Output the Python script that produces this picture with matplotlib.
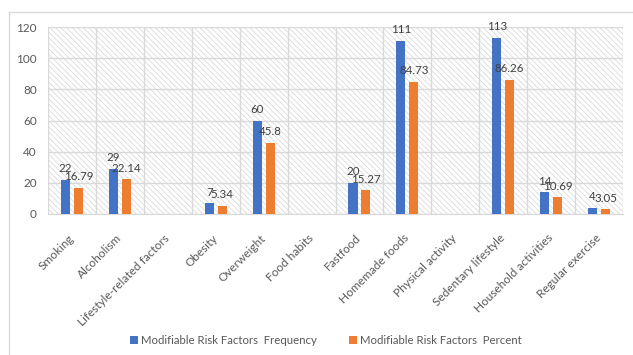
import matplotlib.pyplot as plt
import numpy as np
from matplotlib.patches import Rectangle
from matplotlib.lines import Line2D

categories = ['Smoking', 'Alcoholism', 'Lifestyle-related factors', 'Obesity',
              'Overweight', 'Food habits', 'Fastfood', 'Homemade foods',
              'Physical activity', 'Sedentary lifestyle', 'Household activities',
              'Regular exercise']
frequency = [22, 29, None, 7, 60, None, 20, 111, None, 113, 14, 4]
percent = [16.79, 22.14, None, 5.34, 45.8, None, 15.27, 84.73, None, 86.26, 10.69, 3.05]
yticks = [0, 20, 40, 60, 80, 100, 120]

series_names = ['Modifiable Risk Factors  Frequency', 'Modifiable Risk Factors  Percent']
colors = ['#4472C4', '#ED7D31']

plt.rcParams['font.family'] = ['Lato', 'DejaVu Sans']
plt.rcParams['hatch.linewidth'] = 0.5

fig = plt.figure(figsize=(6.33, 3.55), dpi=100)
ax = fig.add_axes([48 / 633, 1 - 214 / 355, 575 / 633, 187 / 355])

# chart frame (light grey, like the Excel chart area border)
fig.add_artist(Line2D([9 / 633, 9 / 633], [0, 1 - 12 / 355], color='#D9D9D9', lw=1))
fig.add_artist(Line2D([9 / 633, 1], [1 - 12 / 355, 1 - 12 / 355], color='#D9D9D9', lw=1))

# hatched plot area
ax.add_patch(Rectangle((0, 0), 1, 1, transform=ax.transAxes, facecolor='white',
                       edgecolor='#D4D4D4', hatch='\\' * 6, lw=0, zorder=0))

x = np.arange(len(categories))
w = 0.19
off = 0.135
for vals, sign, c, name in [(frequency, -1, colors[0], series_names[0]),
                            (percent, 1, colors[1], series_names[1])]:
    xs = [xi + sign * off for xi, v in zip(x, vals) if v is not None]
    vs = [v for v in vals if v is not None]
    ax.bar(xs, vs, width=w, color=c, label=name, zorder=3)
    for xi, v in zip(xs, vs):
        ax.annotate(f'{v:g}', (xi, v), xytext=(0, 4), textcoords='offset points',
                    ha='center', va='bottom', fontsize=8.3, color='#404040', zorder=4)

ax.set_xlim(-0.5, len(categories) - 0.5)
ax.set_ylim(0, 120)
ax.set_yticks(yticks)
ax.set_xticks(x)
ax.set_xticklabels(categories, rotation=45, ha='right', va='center', rotation_mode='anchor')
ax.set_xticks(np.arange(len(categories) + 1) - 0.5, minor=True)
ax.tick_params(axis='both', length=0, labelsize=8.5, colors='#595959')
ax.tick_params(axis='x', which='major', pad=16)
ax.tick_params(axis='x', which='minor', length=0)
ax.tick_params(axis='y', pad=8)
ax.grid(axis='y', color='#D9D9D9', lw=1, zorder=1)
ax.grid(axis='x', which='minor', color='#D9D9D9', lw=1, zorder=1)
for s in ax.spines.values():
    s.set_visible(False)
ax.spines['bottom'].set_visible(True)
ax.spines['bottom'].set_color('#D9D9D9')
ax.set_axisbelow(True)

fig.legend(loc='center', bbox_to_anchor=(326 / 633, 1 - 340 / 355), ncol=2, frameon=False,
           fontsize=8.2, labelcolor='#595959', handlelength=0.7, handleheight=0.7,
           handletextpad=0.3, columnspacing=2.8)

fig.savefig('out.png', dpi=100)
